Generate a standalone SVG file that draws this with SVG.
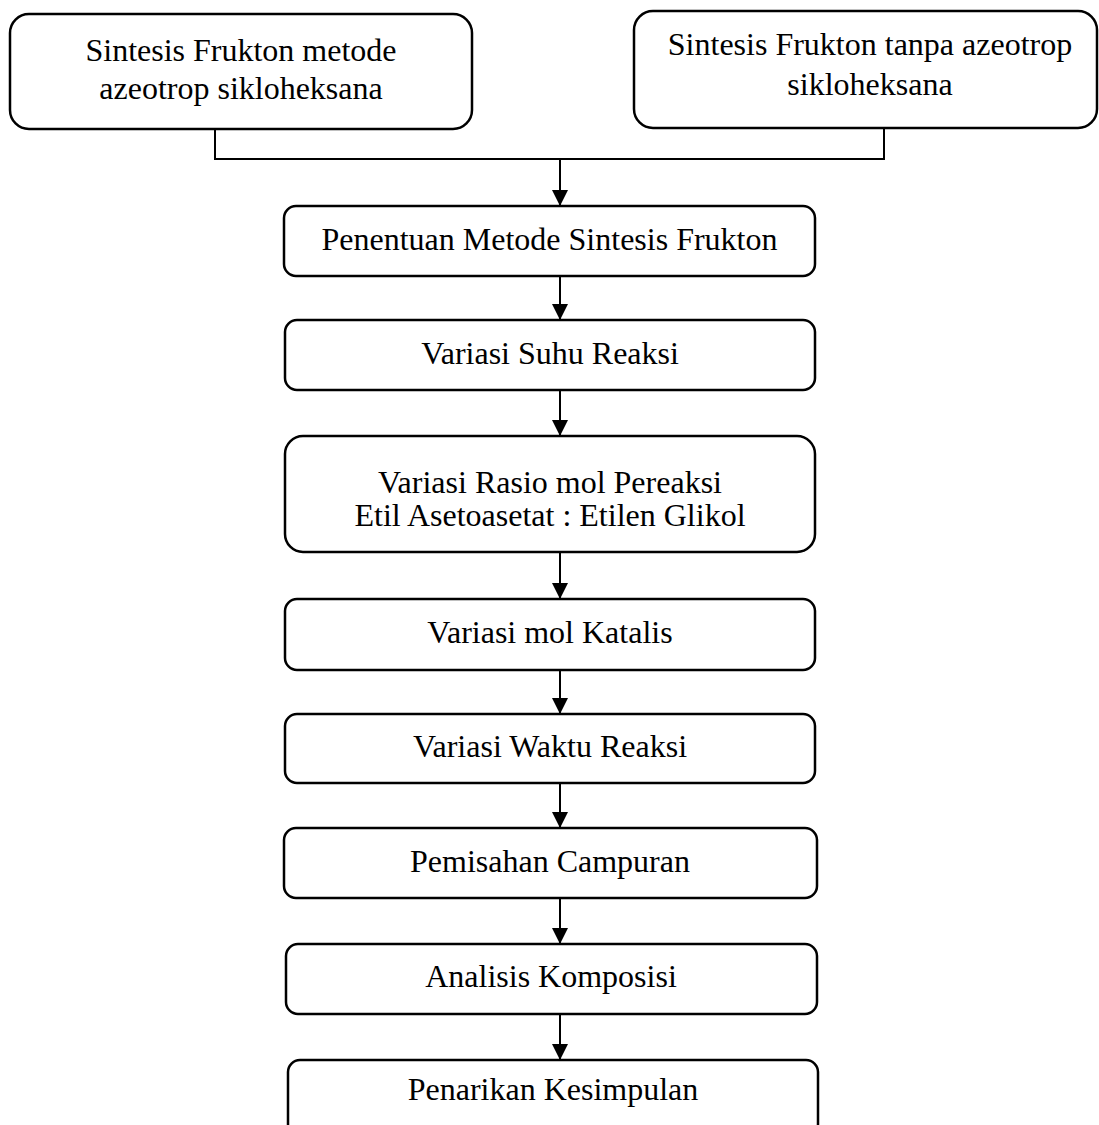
<svg xmlns="http://www.w3.org/2000/svg" width="1099" height="1125" viewBox="0 0 1099 1125">
<style>
.box{fill:#fff;stroke:#000;stroke-width:2.5}
.t{font-family:"Liberation Serif","Times New Roman",serif;font-size:32px;fill:#000;text-anchor:middle}
.c{fill:none;stroke:#000;stroke-width:2}
</style>
<defs>
<marker id="ah" markerUnits="userSpaceOnUse" markerWidth="16" markerHeight="16" refX="16" refY="8" orient="auto">
<path d="M0,0 L16,8 L0,16 z" fill="#000"/>
</marker>
</defs>
<rect width="1099" height="1125" fill="#fff"/>
<g id="connectors">
<polyline class="c" points="215,129 215,159 884,159 884,128"/>
<line class="c" x1="560" y1="159" x2="560" y2="206" marker-end="url(#ah)"/>
<line class="c" x1="560" y1="276" x2="560" y2="320" marker-end="url(#ah)"/>
<line class="c" x1="560" y1="390" x2="560" y2="436" marker-end="url(#ah)"/>
<line class="c" x1="560" y1="552" x2="560" y2="599" marker-end="url(#ah)"/>
<line class="c" x1="560" y1="670" x2="560" y2="714" marker-end="url(#ah)"/>
<line class="c" x1="560" y1="783" x2="560" y2="828" marker-end="url(#ah)"/>
<line class="c" x1="560" y1="898" x2="560" y2="944" marker-end="url(#ah)"/>
<line class="c" x1="560" y1="1014" x2="560" y2="1060" marker-end="url(#ah)"/>
</g>
<g id="n1"><rect class="box" x="10" y="14" width="462" height="115" rx="19"/>
<text class="t" x="241" y="61">Sintesis Frukton metode</text>
<text class="t" x="241" y="99">azeotrop sikloheksana</text></g>
<g id="n2"><rect class="box" x="634" y="11" width="463" height="117" rx="19"/>
<text class="t" x="870" y="55">Sintesis Frukton tanpa azeotrop</text>
<text class="t" x="870" y="95">sikloheksana</text></g>
<g id="n3"><rect class="box" x="284" y="206" width="531" height="70" rx="12"/>
<text class="t" x="549.5" y="250">Penentuan Metode Sintesis Frukton</text></g>
<g id="n4"><rect class="box" x="285" y="320" width="530" height="70" rx="12"/>
<text class="t" x="550" y="364">Variasi Suhu Reaksi</text></g>
<g id="n5"><rect class="box" x="285" y="436" width="530" height="116" rx="18"/>
<text class="t" x="550" y="493">Variasi Rasio mol Pereaksi</text>
<text class="t" x="550" y="526">Etil Asetoasetat : Etilen Glikol</text></g>
<g id="n6"><rect class="box" x="285" y="599" width="530" height="71" rx="12"/>
<text class="t" x="550" y="643">Variasi mol Katalis</text></g>
<g id="n7"><rect class="box" x="285" y="714" width="530" height="69" rx="12"/>
<text class="t" x="550" y="757">Variasi Waktu Reaksi</text></g>
<g id="n8"><rect class="box" x="284" y="828" width="533" height="70" rx="12"/>
<text class="t" x="550" y="872">Pemisahan Campuran</text></g>
<g id="n9"><rect class="box" x="286" y="944" width="531" height="70" rx="12"/>
<text class="t" x="551" y="987">Analisis Komposisi</text></g>
<g id="n10"><rect class="box" x="288" y="1060" width="530" height="76" rx="12"/>
<text class="t" x="553" y="1100">Penarikan Kesimpulan</text></g>
</svg>
